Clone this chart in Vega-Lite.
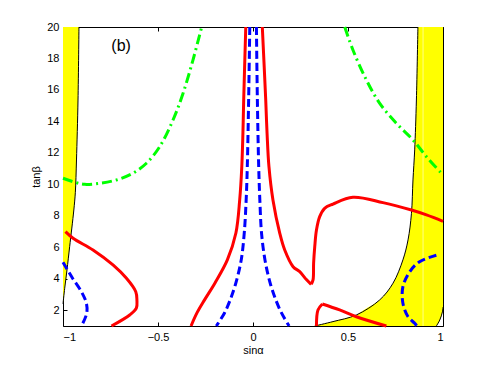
{
  "$schema": "https://vega.github.io/schema/vega-lite/v6.json",
  "width": 380,
  "height": 299,
  "autosize": "none",
  "padding": {"left": 63, "top": 27, "right": 46, "bottom": 42},
  "background": "white",
  "view": {"stroke": null},
  "config": {
    "font": "Liberation Sans",
    "axis": {
      "grid": false,
      "labelFont": "Liberation Sans",
      "titleFont": "Liberation Sans",
      "labelFontSize": 11,
      "titleFontSize": 11,
      "titleFontWeight": "normal",
      "labelColor": "black",
      "titleColor": "black",
      "domainColor": "black",
      "tickColor": "black",
      "domainWidth": 1,
      "tickWidth": 1,
      "tickSize": -4
    }
  },
  "datasets": {
    "fillL": [
      {"y": 2.4, "x": -1, "x2": -1},
      {"y": 3.4, "x": -1, "x2": -0.991},
      {"y": 4.56, "x": -1, "x2": -0.979},
      {"y": 6.04, "x": -1, "x2": -0.965},
      {"y": 8.37, "x": -1, "x2": -0.943},
      {"y": 9.5, "x": -1, "x2": -0.935},
      {"y": 11.55, "x": -1, "x2": -0.929},
      {"y": 15.36, "x": -1, "x2": -0.921},
      {"y": 20, "x": -1, "x2": -0.916}
    ],
    "fillR": [
      {"y": 1.0, "x": 0.325, "x2": 0.965},
      {"y": 1.28, "x": 0.421, "x2": 0.981},
      {"y": 1.38, "x": 0.45, "x2": 0.983},
      {"y": 1.7, "x": 0.544, "x2": 0.994},
      {"y": 1.9, "x": 0.57, "x2": 0.997},
      {"y": 2.2, "x": 0.608, "x2": 1},
      {"y": 2.66, "x": 0.667, "x2": 1},
      {"y": 3.72, "x": 0.737, "x2": 1},
      {"y": 5.2, "x": 0.789, "x2": 1},
      {"y": 6.47, "x": 0.816, "x2": 1},
      {"y": 8.16, "x": 0.834, "x2": 1},
      {"y": 10.28, "x": 0.842, "x2": 1},
      {"y": 12.19, "x": 0.851, "x2": 1},
      {"y": 15.36, "x": 0.86, "x2": 1},
      {"y": 20, "x": 0.868, "x2": 1}
    ],
    "seam": [{"x": 0.895, "y": 1, "y2": 20}],
    "black": [
      {"s": "k1", "o": 1, "x": -1, "y": 2.4},
      {"s": "k1", "o": 2, "x": -0.991, "y": 3.4},
      {"s": "k1", "o": 3, "x": -0.979, "y": 4.56},
      {"s": "k1", "o": 4, "x": -0.965, "y": 6.04},
      {"s": "k1", "o": 5, "x": -0.943, "y": 8.37},
      {"s": "k1", "o": 6, "x": -0.935, "y": 9.5},
      {"s": "k1", "o": 7, "x": -0.929, "y": 11.55},
      {"s": "k1", "o": 8, "x": -0.921, "y": 15.36},
      {"s": "k1", "o": 9, "x": -0.916, "y": 20},
      {"s": "k2", "o": 1, "x": 0.325, "y": 1.0},
      {"s": "k2", "o": 2, "x": 0.421, "y": 1.28},
      {"s": "k2", "o": 3, "x": 0.544, "y": 1.7},
      {"s": "k2", "o": 4, "x": 0.667, "y": 2.66},
      {"s": "k2", "o": 5, "x": 0.737, "y": 3.72},
      {"s": "k2", "o": 6, "x": 0.789, "y": 5.2},
      {"s": "k2", "o": 7, "x": 0.816, "y": 6.47},
      {"s": "k2", "o": 8, "x": 0.834, "y": 8.16},
      {"s": "k2", "o": 9, "x": 0.842, "y": 10.28},
      {"s": "k2", "o": 10, "x": 0.851, "y": 12.19},
      {"s": "k2", "o": 11, "x": 0.86, "y": 15.36},
      {"s": "k2", "o": 12, "x": 0.868, "y": 20},
      {"s": "k3", "o": 1, "x": 0.965, "y": 1.0},
      {"s": "k3", "o": 2, "x": 0.983, "y": 1.38},
      {"s": "k3", "o": 3, "x": 0.997, "y": 1.9},
      {"s": "k3", "o": 4, "x": 1.0, "y": 2.2}
    ],
    "red": [
      {"s": "r1", "o": 1, "x": -0.987, "y": 7.0},
      {"s": "r1", "o": 2, "x": -0.947, "y": 6.58},
      {"s": "r1", "o": 3, "x": -0.842, "y": 5.83},
      {"s": "r1", "o": 4, "x": -0.737, "y": 4.88},
      {"s": "r1", "o": 5, "x": -0.666, "y": 4.03},
      {"s": "r1", "o": 6, "x": -0.617, "y": 3.18},
      {"s": "r1", "o": 7, "x": -0.611, "y": 2.66},
      {"s": "r1", "o": 8, "x": -0.614, "y": 2.13},
      {"s": "r1", "o": 9, "x": -0.649, "y": 1.7},
      {"s": "r1", "o": 10, "x": -0.745, "y": 1.0},
      {"s": "r2", "o": 1, "x": -0.038, "y": 20},
      {"s": "r2", "o": 2, "x": -0.049, "y": 15.36},
      {"s": "r2", "o": 3, "x": -0.053, "y": 13.27},
      {"s": "r2", "o": 4, "x": -0.059, "y": 11.12},
      {"s": "r2", "o": 5, "x": -0.07, "y": 9.01},
      {"s": "r2", "o": 6, "x": -0.09, "y": 6.91},
      {"s": "r2", "o": 7, "x": -0.135, "y": 5.2},
      {"s": "r2", "o": 8, "x": -0.2, "y": 3.74},
      {"s": "r2", "o": 9, "x": -0.255, "y": 2.66},
      {"s": "r2", "o": 10, "x": -0.295, "y": 1.83},
      {"s": "r2", "o": 11, "x": -0.326, "y": 1.0},
      {"s": "r3a", "o": 1, "x": 0.049, "y": 20},
      {"s": "r3a", "o": 2, "x": 0.067, "y": 15.36},
      {"s": "r3a", "o": 3, "x": 0.074, "y": 13.25},
      {"s": "r3a", "o": 4, "x": 0.084, "y": 11.12},
      {"s": "r3a", "o": 5, "x": 0.105, "y": 9.01},
      {"s": "r3a", "o": 6, "x": 0.141, "y": 6.89},
      {"s": "r3a", "o": 7, "x": 0.167, "y": 5.83},
      {"s": "r3a", "o": 8, "x": 0.211, "y": 4.77},
      {"s": "r3a", "o": 9, "x": 0.246, "y": 4.45},
      {"s": "r3a", "o": 10, "x": 0.281, "y": 3.95},
      {"s": "r3a", "o": 11, "x": 0.306, "y": 3.65},
      {"s": "r3b", "o": 1, "x": 0.306, "y": 3.65},
      {"s": "r3b", "o": 2, "x": 0.316, "y": 3.93},
      {"s": "r3b", "o": 3, "x": 0.319, "y": 4.99},
      {"s": "r3b", "o": 4, "x": 0.325, "y": 6.04},
      {"s": "r3b", "o": 5, "x": 0.334, "y": 7.1},
      {"s": "r3b", "o": 6, "x": 0.351, "y": 7.95},
      {"s": "r3b", "o": 7, "x": 0.377, "y": 8.48},
      {"s": "r3b", "o": 8, "x": 0.421, "y": 8.75},
      {"s": "r3b", "o": 9, "x": 0.526, "y": 9.18},
      {"s": "r3b", "o": 10, "x": 0.684, "y": 8.84},
      {"s": "r3b", "o": 11, "x": 0.834, "y": 8.37},
      {"s": "r3b", "o": 12, "x": 0.913, "y": 8.06},
      {"s": "r3b", "o": 13, "x": 1.0, "y": 7.65},
      {"s": "r4a", "o": 1, "x": 0.334, "y": 1.0},
      {"s": "r4a", "o": 2, "x": 0.342, "y": 2.02},
      {"s": "r4a", "o": 3, "x": 0.365, "y": 2.4},
      {"s": "r4b", "o": 1, "x": 0.365, "y": 2.4},
      {"s": "r4b", "o": 2, "x": 0.456, "y": 2.02},
      {"s": "r4b", "o": 3, "x": 0.544, "y": 1.59},
      {"s": "r4b", "o": 4, "x": 0.702, "y": 1.0}
    ],
    "blue": [
      {"s": "b1", "o": 1, "x": -1, "y": 5.05},
      {"s": "b1", "o": 2, "x": -0.952, "y": 4.08},
      {"s": "b1", "o": 3, "x": -0.903, "y": 3.18},
      {"s": "b1", "o": 4, "x": -0.877, "y": 2.45},
      {"s": "b1", "o": 5, "x": -0.875, "y": 1.81},
      {"s": "b1", "o": 6, "x": -0.903, "y": 1.0},
      {"s": "b2", "o": 1, "x": -0.017, "y": 20},
      {"s": "b2", "o": 2, "x": -0.023, "y": 15.36},
      {"s": "b2", "o": 3, "x": -0.03, "y": 11.12},
      {"s": "b2", "o": 4, "x": -0.036, "y": 9.01},
      {"s": "b2", "o": 5, "x": -0.046, "y": 6.91},
      {"s": "b2", "o": 6, "x": -0.062, "y": 5.2},
      {"s": "b2", "o": 7, "x": -0.09, "y": 3.74},
      {"s": "b2", "o": 8, "x": -0.12, "y": 2.66},
      {"s": "b2", "o": 9, "x": -0.15, "y": 1.83},
      {"s": "b2", "o": 10, "x": -0.193, "y": 1.0},
      {"s": "b3", "o": 1, "x": 0.018, "y": 20},
      {"s": "b3", "o": 2, "x": 0.023, "y": 15.36},
      {"s": "b3", "o": 3, "x": 0.03, "y": 11.12},
      {"s": "b3", "o": 4, "x": 0.036, "y": 9.01},
      {"s": "b3", "o": 5, "x": 0.045, "y": 6.89},
      {"s": "b3", "o": 6, "x": 0.063, "y": 5.2},
      {"s": "b3", "o": 7, "x": 0.09, "y": 3.74},
      {"s": "b3", "o": 8, "x": 0.12, "y": 2.66},
      {"s": "b3", "o": 9, "x": 0.15, "y": 1.83},
      {"s": "b3", "o": 10, "x": 0.19, "y": 1.0},
      {"s": "b4", "o": 1, "x": 0.965, "y": 5.5},
      {"s": "b4", "o": 2, "x": 0.877, "y": 5.09},
      {"s": "b4", "o": 3, "x": 0.825, "y": 4.45},
      {"s": "b4", "o": 4, "x": 0.789, "y": 3.5},
      {"s": "b4", "o": 5, "x": 0.789, "y": 2.45},
      {"s": "b4", "o": 6, "x": 0.816, "y": 1.59},
      {"s": "b4", "o": 7, "x": 0.851, "y": 1.17},
      {"s": "b4", "o": 8, "x": 0.862, "y": 1.0}
    ],
    "green": [
      {"s": "g1", "o": 1, "x": -1, "y": 10.39},
      {"s": "g1", "o": 2, "x": -0.93, "y": 10.11},
      {"s": "g1", "o": 3, "x": -0.886, "y": 10.0},
      {"s": "g1", "o": 4, "x": -0.807, "y": 10.07},
      {"s": "g1", "o": 5, "x": -0.719, "y": 10.28},
      {"s": "g1", "o": 6, "x": -0.632, "y": 10.71},
      {"s": "g1", "o": 7, "x": -0.561, "y": 11.34},
      {"s": "g1", "o": 8, "x": -0.491, "y": 12.4},
      {"s": "g1", "o": 9, "x": -0.421, "y": 14.09},
      {"s": "g1", "o": 10, "x": -0.368, "y": 15.79},
      {"s": "g1", "o": 11, "x": -0.316, "y": 17.9},
      {"s": "g1", "o": 12, "x": -0.27, "y": 20},
      {"s": "g2", "o": 1, "x": 0.483, "y": 20},
      {"s": "g2", "o": 2, "x": 0.526, "y": 18.54},
      {"s": "g2", "o": 3, "x": 0.597, "y": 16.63},
      {"s": "g2", "o": 4, "x": 0.667, "y": 15.15},
      {"s": "g2", "o": 5, "x": 0.755, "y": 13.88},
      {"s": "g2", "o": 6, "x": 0.842, "y": 12.82},
      {"s": "g2", "o": 7, "x": 0.913, "y": 11.76},
      {"s": "g2", "o": 8, "x": 1.0, "y": 10.6}
    ],
    "label": [{"x": -0.694, "y": 18.82, "t": "(b)"}]
  },
  "resolve": {"axis": {"x": "independent", "y": "independent"}},
  "layer": [
    {
      "data": {"name": "fillL"},
      "mark": {"type": "area", "orient": "horizontal", "color": "#ffff00", "opacity": 1, "interpolate": "catmull-rom"},
      "encoding": {
        "y": {"field": "y", "type": "quantitative", "scale": {"domain": [1, 20], "nice": false, "zero": false},
          "axis": {"orient": "left", "values": [2, 4, 6, 8, 10, 12, 14, 16, 18, 20], "title": "tanβ", "labelPadding": 8, "titlePadding": 5}},
        "x": {"field": "x", "type": "quantitative", "scale": {"domain": [-1, 1], "nice": false, "zero": false},
          "axis": {"orient": "bottom", "values": [-1, -0.5, 0, 0.5, 1], "format": "~g", "title": "sinα", "labelPadding": 9, "titlePadding": 2}},
        "x2": {"field": "x2"}
      }
    },
    {
      "data": {"name": "fillR"},
      "mark": {"type": "area", "orient": "horizontal", "color": "#ffff00", "opacity": 1, "interpolate": "catmull-rom"},
      "encoding": {
        "y": {"field": "y", "type": "quantitative", "axis": null},
        "x": {"field": "x", "type": "quantitative", "axis": null},
        "x2": {"field": "x2"}
      }
    },
    {
      "data": {"name": "seam"},
      "mark": {"type": "rule", "color": "#ffff88", "strokeWidth": 1},
      "encoding": {
        "x": {"field": "x", "type": "quantitative", "axis": null},
        "y": {"field": "y", "type": "quantitative", "axis": null},
        "y2": {"field": "y2"}
      }
    },
    {
      "data": {"name": "black"},
      "mark": {"type": "line", "color": "black", "strokeWidth": 1, "interpolate": "catmull-rom"},
      "encoding": {
        "x": {"field": "x", "type": "quantitative",
          "axis": {"orient": "top", "values": [-1, -0.5, 0, 0.5, 1], "labels": false, "title": null}},
        "y": {"field": "y", "type": "quantitative",
          "axis": {"orient": "right", "values": [2, 4, 6, 8, 10, 12, 14, 16, 18, 20], "labels": false, "title": null}},
        "detail": {"field": "s"},
        "order": {"field": "o"}
      }
    },
    {
      "data": {"name": "green"},
      "mark": {"type": "line", "color": "#00ff00", "strokeWidth": 3, "strokeDash": [10, 4, 2, 4], "interpolate": "catmull-rom"},
      "encoding": {
        "x": {"field": "x", "type": "quantitative", "axis": null},
        "y": {"field": "y", "type": "quantitative", "axis": null},
        "detail": {"field": "s"},
        "order": {"field": "o"}
      }
    },
    {
      "data": {"name": "blue"},
      "mark": {"type": "line", "color": "#0000ff", "strokeWidth": 3, "strokeDash": [8, 4], "interpolate": "catmull-rom"},
      "encoding": {
        "x": {"field": "x", "type": "quantitative", "axis": null},
        "y": {"field": "y", "type": "quantitative", "axis": null},
        "detail": {"field": "s"},
        "order": {"field": "o"}
      }
    },
    {
      "data": {"name": "red"},
      "mark": {"type": "line", "color": "#ff0000", "strokeWidth": 3, "interpolate": "catmull-rom"},
      "encoding": {
        "x": {"field": "x", "type": "quantitative", "axis": null},
        "y": {"field": "y", "type": "quantitative", "axis": null},
        "detail": {"field": "s"},
        "order": {"field": "o"}
      }
    },
    {
      "data": {"name": "label"},
      "mark": {"type": "text", "fontSize": 16, "font": "Liberation Sans", "align": "center", "baseline": "middle", "color": "black"},
      "encoding": {
        "x": {"field": "x", "type": "quantitative", "axis": null},
        "y": {"field": "y", "type": "quantitative", "axis": null},
        "text": {"field": "t"}
      }
    }
  ]
}
